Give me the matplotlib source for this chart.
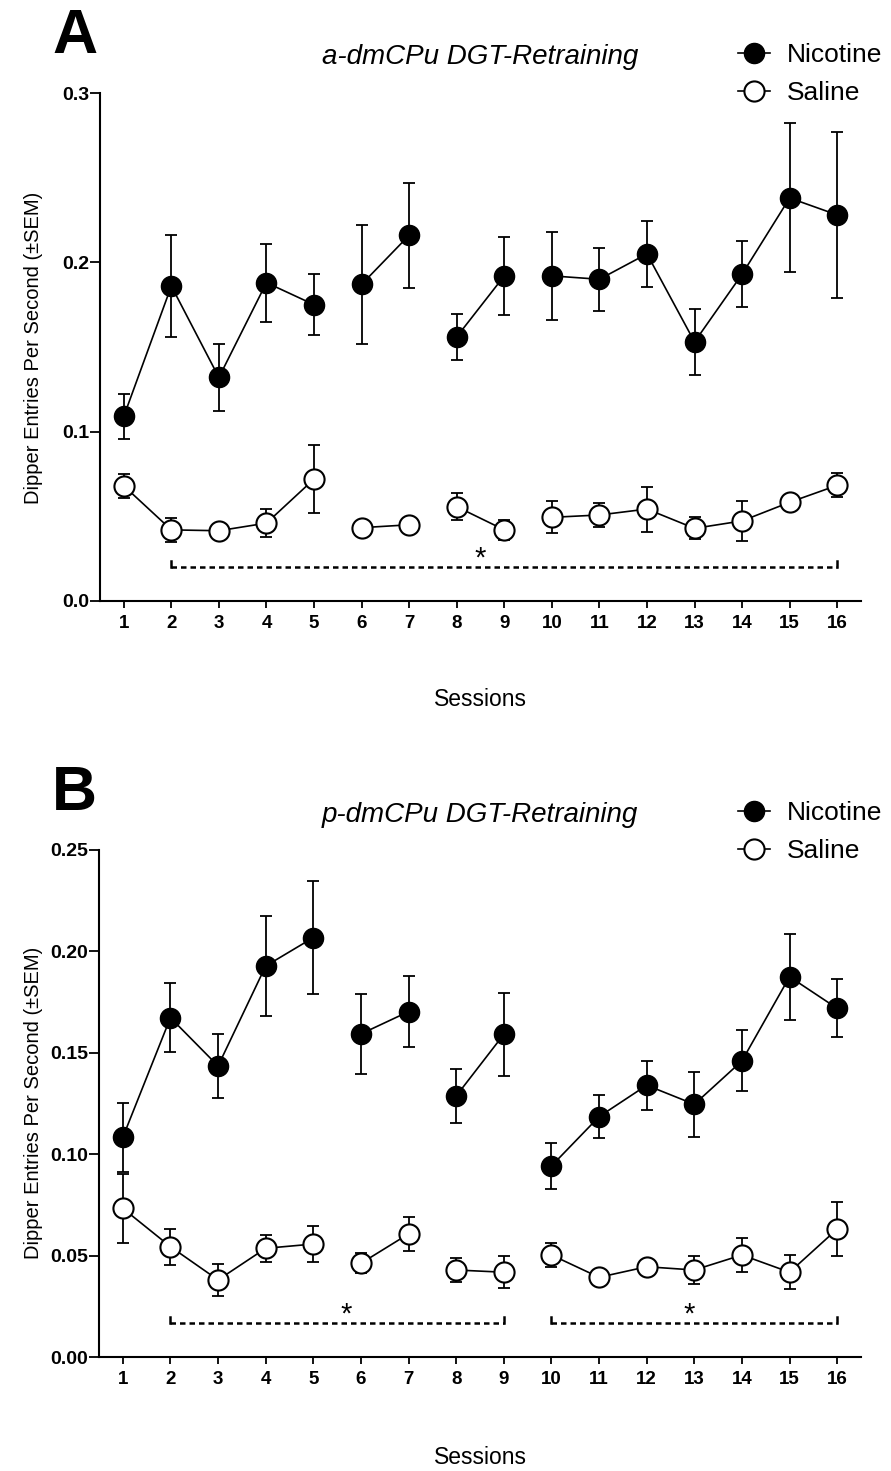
import numpy as np
import matplotlib
matplotlib.use("Agg")
import matplotlib.pyplot as plt
from matplotlib.lines import Line2D

plt.rcParams["font.family"] = ["Liberation Sans", "DejaVu Sans"]

sessions = np.arange(1, 17)
# line breaks between session blocks
segments = [(1, 5), (6, 7), (8, 9), (10, 16)]

# Panel A: a-dmCPu
a_nic = [0.109, 0.186, 0.132, 0.188, 0.175, 0.187, 0.216, 0.156,
         0.192, 0.192, 0.190, 0.205, 0.153, 0.193, 0.238, 0.228]
a_nic_sem = [0.0135, 0.030, 0.020, 0.023, 0.018, 0.035, 0.031, 0.0136,
             0.023, 0.026, 0.0185, 0.0195, 0.0196, 0.0196, 0.044, 0.049]
a_sal = [0.068, 0.042, 0.0415, 0.046, 0.072, 0.0433, 0.045, 0.0557,
         0.042, 0.0494, 0.0508, 0.0543, 0.0429, 0.0473, 0.0583, 0.0683]
a_sal_sem = [0.007, 0.0072, 0.003, 0.0083, 0.020, 0.003, 0.003, 0.0078,
             0.006, 0.0095, 0.0072, 0.0133, 0.0065, 0.0116, 0.003, 0.0071]

# Panel B: p-dmCPu
b_nic = [0.1083, 0.1673, 0.1435, 0.1928, 0.2068, 0.1593, 0.1703, 0.1287,
         0.1591, 0.0942, 0.1185, 0.1340, 0.1246, 0.1460, 0.1875, 0.1719]
b_nic_sem = [0.017, 0.017, 0.016, 0.0245, 0.028, 0.0197, 0.0176, 0.0134,
             0.0206, 0.0115, 0.0107, 0.012, 0.016, 0.015, 0.0213, 0.0143]
b_sal = [0.0733, 0.0544, 0.038, 0.0536, 0.0557, 0.0462, 0.0607, 0.0429,
         0.0418, 0.0503, 0.0393, 0.0445, 0.0429, 0.0503, 0.0418, 0.0631]
b_sal_sem = [0.017, 0.0088, 0.0078, 0.0067, 0.009, 0.005, 0.0085, 0.006,
             0.008, 0.006, 0.003, 0.003, 0.007, 0.0084, 0.0083, 0.0132]

W, H = 891, 1471
fig = plt.figure(figsize=(W / 100, H / 100), dpi=100)


def fx(px):
    return px / W


def fy(py):
    return 1 - py / H


def draw_panel(ax, nic, nic_sem, sal, sal_sem, ymax, yticks, ylabels,
               brackets, bracket_y, tick_h):
    nic = np.array(nic); sal = np.array(sal)
    ax.errorbar(sessions, nic, yerr=nic_sem, fmt="none", ecolor="black",
                elinewidth=1.3, capsize=4, capthick=1.3, zorder=2)
    ax.errorbar(sessions, sal, yerr=sal_sem, fmt="none", ecolor="black",
                elinewidth=1.3, capsize=4, capthick=1.3, zorder=2)
    for s0, s1 in segments:
        m = (sessions >= s0) & (sessions <= s1)
        ax.plot(sessions[m], nic[m], color="black", lw=1.2, marker="o",
                ms=14.5, mfc="black", mec="black", zorder=4)
        ax.plot(sessions[m], sal[m], color="black", lw=1.2, marker="o",
                ms=14.5, mfc="white", mec="black", mew=1.5, zorder=3)
    for (b0, b1, star_x) in brackets:
        ax.plot([b0, b1], [bracket_y, bracket_y], color="black", lw=1.8,
                ls=(0, (2.2, 1.6)), zorder=1)
        ax.plot([b0, b0], [bracket_y, bracket_y + tick_h], color="black", lw=1.8)
        ax.plot([b1, b1], [bracket_y, bracket_y + tick_h], color="black", lw=1.8)
        ax.text(star_x, bracket_y - tick_h * 1.0, "*", ha="center", va="bottom",
                fontsize=21)
    ax.set_xlim(0.5, 16.5)
    ax.set_ylim(0, ymax)
    ax.set_xticks(sessions)
    ax.set_xticklabels([str(s) for s in sessions], fontweight="bold", fontsize=13.5)
    ax.set_yticks(yticks)
    ax.set_yticklabels(ylabels, fontweight="bold", fontsize=14)
    for side in ["top", "right"]:
        ax.spines[side].set_visible(False)
    for side in ["left", "bottom"]:
        ax.spines[side].set_linewidth(1.5)
    ax.tick_params(axis="y", length=7, width=1.3, pad=1)
    ax.tick_params(axis="x", length=5, width=1.3, pad=5)


handles = [
    Line2D([0], [0], color="black", lw=1.2, marker="o", ms=14.5, mfc="black", mec="black"),
    Line2D([0], [0], color="black", lw=1.2, marker="o", ms=14.5, mfc="white", mec="black", mew=1.5),
]
leg_kw = dict(loc="center left", frameon=False, fontsize=19, handlelength=1.2,
              handletextpad=0.65, labelspacing=0.55, borderpad=0, borderaxespad=0)

# Panel A
axA = fig.add_axes([fx(100), fy(601), fx(861) - fx(100), fy(93) - fy(601)])
draw_panel(axA, a_nic, a_nic_sem, a_sal, a_sal_sem, 0.3, [0.0, 0.1, 0.2, 0.3],
           ["0.0", "0.1", "0.2", "0.3"], [(2, 16, 8.5)], 0.0203, 0.0035)
fig.text(fx(52), fy(53), "A", fontsize=45, fontweight="bold", ha="left", va="baseline")
fig.text(fx(480), fy(57), "a-dmCPu DGT-Retraining", fontsize=20, style="italic",
         ha="center", va="center")
fig.text(fx(34), fy(348), "Dipper Entries Per Second (\u00b1SEM)", fontsize=14.5,
         rotation=90, ha="center", va="center")
fig.text(fx(480), fy(700), "Sessions", fontsize=16.5, ha="center", va="center")
axA.legend(handles, ["Nicotine", "Saline"], bbox_to_anchor=(fx(738), fy(74)),
           bbox_transform=fig.transFigure, **leg_kw)

# Panel B
axB = fig.add_axes([fx(99), fy(1357), fx(861) - fx(99), fy(850) - fy(1357)])
draw_panel(axB, b_nic, b_nic_sem, b_sal, b_sal_sem, 0.25,
           [0.0, 0.05, 0.10, 0.15, 0.20, 0.25],
           ["0.00", "0.05", "0.10", "0.15", "0.20", "0.25"],
           [(2, 9, 5.7), (10, 16, 12.9)], 0.0169, 0.003)
fig.text(fx(52), fy(810), "B", fontsize=45, fontweight="bold", ha="left", va="baseline")
fig.text(fx(480), fy(815), "p-dmCPu DGT-Retraining", fontsize=20, style="italic",
         ha="center", va="center")
fig.text(fx(34), fy(1103), "Dipper Entries Per Second (\u00b1SEM)", fontsize=14.5,
         rotation=90, ha="center", va="center")
fig.text(fx(480), fy(1458), "Sessions", fontsize=16.5, ha="center", va="center")
axB.legend(handles, ["Nicotine", "Saline"], bbox_to_anchor=(fx(738), fy(832)),
           bbox_transform=fig.transFigure, **leg_kw)

fig.savefig("out.png", dpi=100)
